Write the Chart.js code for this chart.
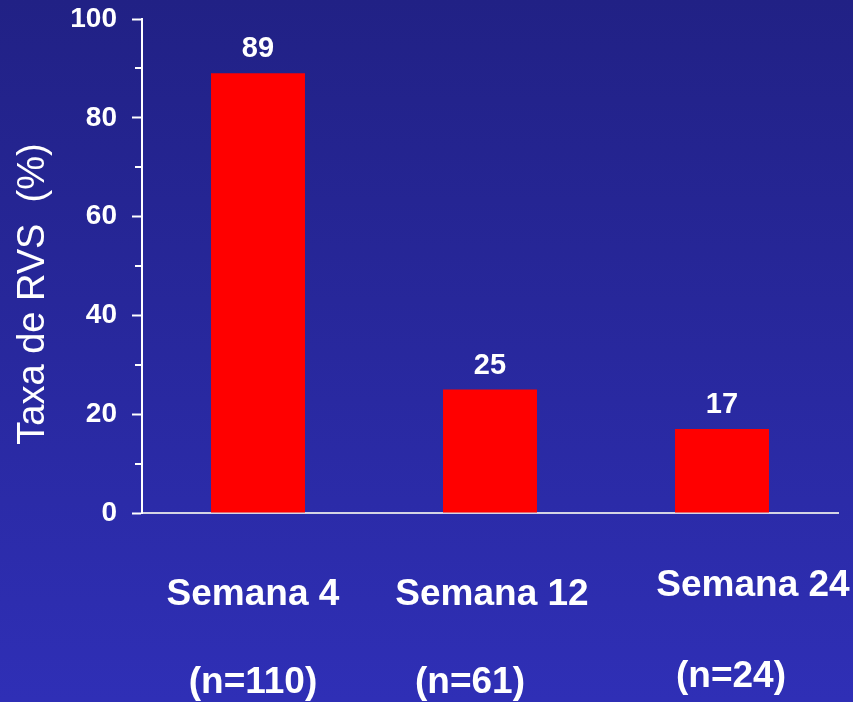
<!DOCTYPE html>
<html>
<head>
<meta charset="utf-8">
<script src="https://cdn.jsdelivr.net/npm/chart.js@4/dist/chart.umd.min.js"></script>
<style>
  html, body { margin: 0; padding: 0; background: #2a2aa0; }
  #wrap { width: 853px; height: 702px; }
</style>
</head>
<body>
<div id="wrap"><canvas id="chart"></canvas></div>
<script>
// Sustained virological response rate by week of treatment
const categories = ['Semana 4', 'Semana 12', 'Semana 24'];
const sampleSizes = ['(n=110)', '(n=61)', '(n=24)'];
const rvsRates = [89, 25, 17];
const yTicks = [0, 20, 40, 60, 80, 100];
const yMinorTicks = [10, 30, 50, 70, 90];
const yTitle = 'Taxa de RVS  (%)';

const FONT = '"Liberation Sans", Arial, Helvetica, sans-serif';

// Slide-style vertical gradient behind everything
const backgroundPlugin = {
  id: 'slideBackground',
  beforeDraw(chart) {
    const { ctx, width, height } = chart;
    const g = ctx.createLinearGradient(0, 0, 0, height);
    g.addColorStop(0, '#212185');
    g.addColorStop(1, '#2f2fb6');
    ctx.save();
    ctx.fillStyle = g;
    ctx.fillRect(0, 0, width, height);
    ctx.restore();
  }
};

// Short minor tick marks on the value axis
const minorTickPlugin = {
  id: 'minorTicks',
  afterDraw(chart) {
    const y = chart.scales.y;
    const ctx = chart.ctx;
    const x0 = chart.chartArea.left;
    ctx.save();
    ctx.strokeStyle = '#ffffff';
    ctx.lineWidth = 2;
    yMinorTicks.forEach(v => {
      const py = Math.round(y.getPixelForValue(v));
      ctx.beginPath();
      ctx.moveTo(x0 - 7, py);
      ctx.lineTo(x0, py);
      ctx.stroke();
    });
    ctx.restore();
  }
};

// Value labels above bars, category and sample-size labels below the axis, rotated axis title
const labelPlugin = {
  id: 'textLabels',
  afterDraw(chart) {
    const ctx = chart.ctx;
    const area = chart.chartArea;
    const meta = chart.getDatasetMeta(0);
    ctx.save();
    ctx.fillStyle = '#ffffff';

    // values
    ctx.font = 'bold 29px ' + FONT;
    ctx.textAlign = 'center';
    ctx.textBaseline = 'alphabetic';
    meta.data.forEach((bar, i) => {
      ctx.fillText(String(rvsRates[i]), bar.x, bar.y - 16);
    });

    // category names and sample sizes
    const nameShift = [[-5, 92], [2, 92], [31, 83]];
    const sizeShift = [[-5, 180], [-20, 180], [9, 174]];
    ctx.font = 'bold 37px ' + FONT;
    meta.data.forEach((bar, i) => {
      ctx.fillText(categories[i], bar.x + nameShift[i][0], area.bottom + nameShift[i][1]);
      ctx.fillText(sampleSizes[i], bar.x + sizeShift[i][0], area.bottom + sizeShift[i][1]);
    });

    // axis title
    ctx.font = '38px ' + FONT;
    ctx.translate(44, (area.top + area.bottom) / 2 + 28);
    ctx.rotate(-Math.PI / 2);
    ctx.textAlign = 'center';
    ctx.fillText(yTitle, 0, 0);
    ctx.restore();
  }
};

new Chart(document.getElementById('chart'), {
  type: 'bar',
  data: {
    labels: categories,
    datasets: [{
      data: rvsRates,
      backgroundColor: '#ff0000',
      borderWidth: 0,
      barPercentage: 0.405,
      categoryPercentage: 1
    }]
  },
  options: {
    responsive: true,
    maintainAspectRatio: false,
    animation: false,
    events: [],
    layout: { padding: { top: 19, right: 15, bottom: 189, left: 0 } },
    plugins: {
      legend: { display: false },
      tooltip: { enabled: false },
      title: { display: false }
    },
    scales: {
      x: {
        ticks: { display: false },
        grid: { display: false },
        border: { display: true, color: '#d4d4e4', width: 2 },
        afterFit(scale) { scale.height = 0; }
      },
      y: {
        min: 0,
        max: 100,
        afterBuildTicks(scale) { scale.ticks = yTicks.map(v => ({ value: v })); },
        ticks: {
          color: '#ffffff',
          font: { family: FONT, size: 28, weight: 'bold' },
          padding: 15
        },
        grid: {
          drawOnChartArea: false,
          drawTicks: true,
          tickLength: 10,
          tickWidth: 2,
          tickColor: '#ffffff'
        },
        border: { display: true, color: '#ffffff', width: 2 },
        afterFit(scale) {
          scale.width = 142;
          scale.paddingTop = 0;
          scale.paddingBottom = 0;
        }
      }
    }
  },
  plugins: [backgroundPlugin, minorTickPlugin, labelPlugin]
});
</script>
</body>
</html>
